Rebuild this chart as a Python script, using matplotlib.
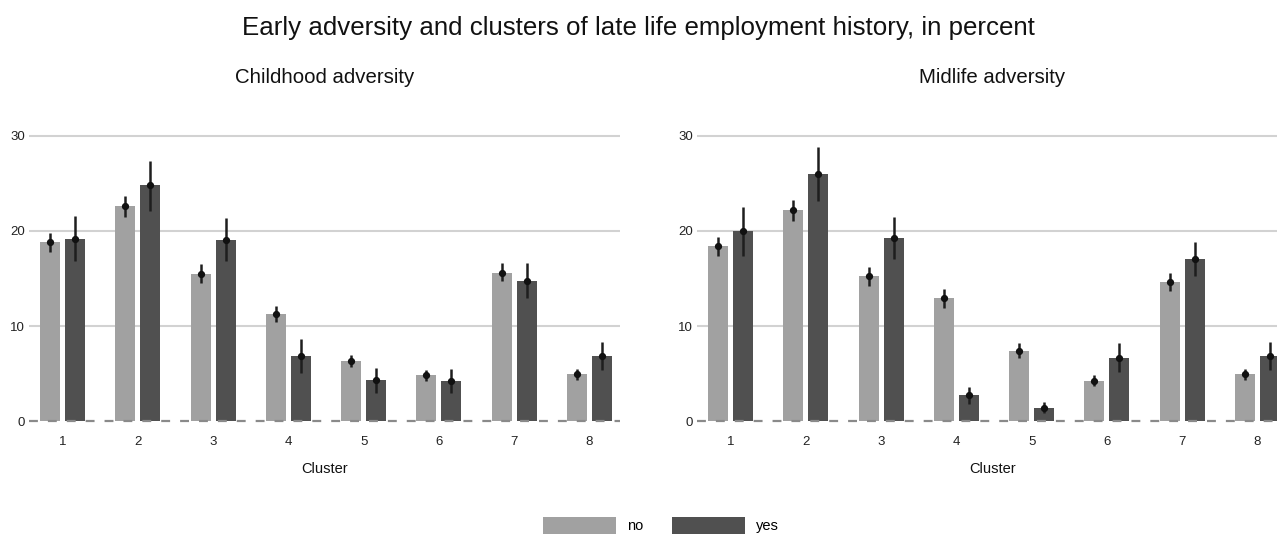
import matplotlib
matplotlib.use("Agg")
import matplotlib.pyplot as plt
from matplotlib.patches import Patch
import numpy as np

plt.rcParams["font.family"] = ["Liberation Sans", "DejaVu Sans"]

clusters = [1, 2, 3, 4, 5, 6, 7, 8]
groups = ["no", "yes"]

# Childhood adversity: estimates and confidence bounds (percent)
child_no = [18.8, 22.6, 15.5, 11.3, 6.3, 4.8, 15.6, 5.0]
child_no_lo = [17.75, 21.5, 14.5, 10.4, 5.7, 4.2, 14.7, 4.3]
child_no_hi = [19.75, 23.7, 16.5, 12.1, 7.0, 5.4, 16.6, 5.5]
child_yes = [19.2, 24.8, 19.1, 6.8, 4.3, 4.2, 14.7, 6.8]
child_yes_lo = [16.8, 22.1, 16.8, 5.05, 3.0, 3.0, 12.9, 5.4]
child_yes_hi = [21.6, 27.4, 21.4, 8.6, 5.6, 5.5, 16.6, 8.3]

# Midlife adversity: estimates and confidence bounds (percent)
mid_no = [18.4, 22.2, 15.3, 12.9, 7.4, 4.2, 14.6, 4.9]
mid_no_lo = [17.4, 21.0, 14.2, 11.9, 6.6, 3.7, 13.7, 4.3]
mid_no_hi = [19.4, 23.3, 16.2, 13.9, 8.2, 4.8, 15.6, 5.5]
mid_yes = [20.0, 26.0, 19.3, 2.7, 1.4, 6.6, 17.0, 6.8]
mid_yes_lo = [17.4, 23.2, 17.1, 1.8, 0.8, 5.2, 15.3, 5.4]
mid_yes_hi = [22.5, 28.8, 21.5, 3.6, 2.0, 8.2, 18.8, 8.35]

yticks = [0, 10, 20, 30]

LIGHT = "#a1a1a1"
DARK = "#505050"
W, H = 1277, 535

fig = plt.figure(figsize=(W / 100, H / 100), dpi=100)

ax_bottom = 0.1953
ax_height = 0.5683
ax_width = 591 / W
ax_left = fig.add_axes([29 / W, ax_bottom, ax_width, ax_height])
ax_right = fig.add_axes([697 / W, ax_bottom, ax_width, ax_height])

bar_w = 0.266
offset = 0.166


def draw_panel(ax, title, no, no_lo, no_hi, yes, yes_lo, yes_hi):
    x = np.array(clusters, dtype=float)
    series = [
        (x - offset, no, no_lo, no_hi, LIGHT),
        (x + offset, yes, yes_lo, yes_hi, DARK),
    ]
    for xs, vals, lo, hi, col in series:
        vals = np.array(vals)
        err = np.vstack([vals - np.array(lo), np.array(hi) - vals])
        ax.bar(xs, vals, width=bar_w, color=col, zorder=2, linewidth=0)
        ax.errorbar(xs, vals, yerr=err, fmt="o", ms=4.2, color="#111111",
                    ecolor="#1e1e1e", elinewidth=1.8, capsize=0, zorder=4,
                    clip_on=False)
    for yv in yticks[1:]:
        ax.axhline(yv, color="#d2d2d2", lw=1.5, zorder=1)
    ax.axhline(0, color="#8a8a8a", lw=1.6, ls=(0, (4, 4.5)), zorder=3)
    ax.set_xlim(0.555, 8.405)
    ax.set_ylim(-1, 31)
    ax.set_xticks(clusters)
    ax.set_xticklabels([str(c) for c in clusters])
    ax.set_yticks(yticks)
    ax.tick_params(axis="both", length=0, labelsize=9.5, colors="#222222")
    ax.tick_params(axis="x", pad=4)
    ax.tick_params(axis="y", pad=3)
    for s in ax.spines.values():
        s.set_visible(False)
    ax.set_xlabel("Cluster", fontsize=10.5, color="#111111", labelpad=10)
    pos = ax.get_position()
    fig.text(pos.x0 + pos.width / 2, 1 - 83 / H, title, ha="center",
             va="baseline", fontsize=14.7, color="#111111")


draw_panel(ax_left, "Childhood adversity", child_no, child_no_lo, child_no_hi,
           child_yes, child_yes_lo, child_yes_hi)
draw_panel(ax_right, "Midlife adversity", mid_no, mid_no_lo, mid_no_hi,
           mid_yes, mid_yes_lo, mid_yes_hi)

fig.text(0.5, 1 - 35 / H,
         "Early adversity and clusters of late life employment history, in percent",
         ha="center", va="baseline", fontsize=18.6, color="#111111")

handles = [Patch(facecolor=LIGHT, edgecolor="none"),
           Patch(facecolor=DARK, edgecolor="none")]
fig.legend(handles, groups, loc="upper left", ncol=2, frameon=False,
           bbox_to_anchor=(543 / W, 1 - 517 / H), borderpad=0, borderaxespad=0,
           fontsize=10.5, handlelength=5.0, handleheight=1.4,
           handletextpad=0.75, columnspacing=2.0)

fig.savefig("out.png", dpi=100, facecolor="white")
